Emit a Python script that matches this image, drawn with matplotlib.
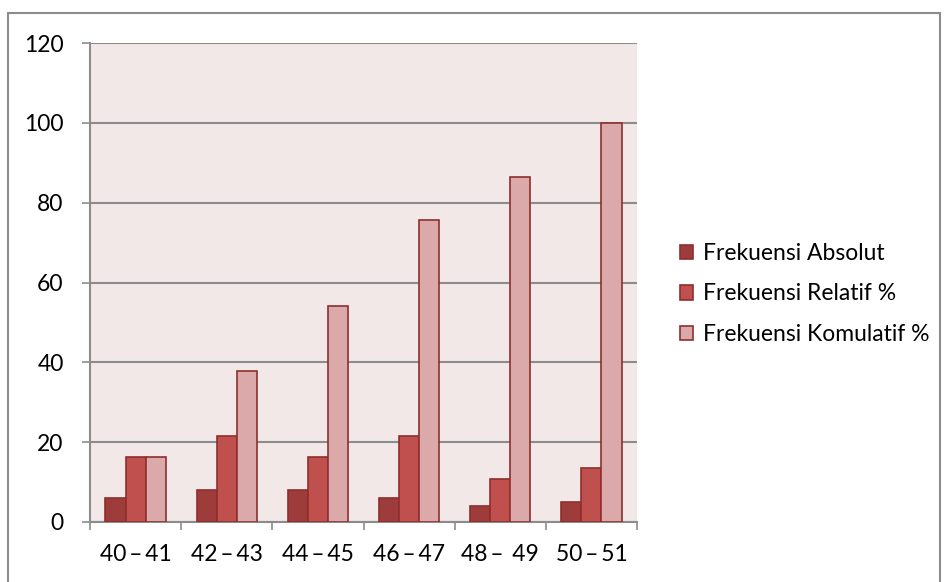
import matplotlib.pyplot as plt
import matplotlib.patches as mpatches
import numpy as np

plt.rcParams['font.family'] = ['Lato', 'DejaVu Sans']

kelas = ["40\u2009–\u200941", "42\u2009–\u200943", "44\u2009–\u200945",
         "46\u2009–\u200947", "48\u2009– \u200949", "50\u2009–\u200951"]
absolut = [6, 8, 8, 6, 4, 5]
relatif = [16.2, 21.6, 16.2, 21.6, 10.8, 13.5]
komulatif = [16.2, 37.8, 54.1, 75.7, 86.5, 100]

series = [
    ("Frekuensi Absolut", absolut, "#9e3c3b"),
    ("Frekuensi Relatif %", relatif, "#c0504d"),
    ("Frekuensi Komulatif %", komulatif, "#dba9aa"),
]

fig = plt.figure(figsize=(9.53, 5.82), dpi=100)
# outer chart border
fig.patches.append(mpatches.Rectangle((8 / 953, -0.05), 932 / 953, 1.05 - 13 / 582,
                                      transform=fig.transFigure, fill=False,
                                      edgecolor="#8c8c8c", linewidth=1.5))

ax = fig.add_axes([90 / 953, 1 - 522 / 582, 547 / 953, 479 / 582])
ax.set_facecolor("#f2e8e8")

x = np.arange(len(kelas)) + 0.5
w = 0.22
for i, (name, vals, col) in enumerate(series):
    ax.bar(x + (i - 1) * w, vals, width=w, color=col, edgecolor="#8e2f2e",
           linewidth=1.2, label=name, zorder=3)

ax.set_xlim(0, len(kelas))
ax.set_ylim(0, 120)
ax.set_yticks(range(0, 121, 20))
ax.yaxis.grid(True, color="#8c8c8c", linewidth=1.5, zorder=1)
ax.set_axisbelow(True)

fs = 16.5
ax.set_xticks(range(len(kelas) + 1))
ax.set_xticklabels([])
ax.set_xticks(x, minor=True)
ax.set_xticklabels(kelas, minor=True)
ax.tick_params(axis="x", which="major", length=6, color="#8c8c8c", width=1.2)
ax.tick_params(axis="x", which="minor", length=0, pad=16, labelsize=fs)
ax.tick_params(axis="y", length=6, color="#8c8c8c", width=1.2, pad=13, labelsize=fs)

for s in ["top", "right"]:
    ax.spines[s].set_visible(False)
for s in ["left", "bottom"]:
    ax.spines[s].set_color("#8c8c8c")
    ax.spines[s].set_linewidth(1.5)

fig.legend(loc="center left", bbox_to_anchor=(659 / 953, 1 - 294 / 582),
           frameon=False, fontsize=fs, handlelength=0.6, handleheight=0.6,
           handletextpad=0.4, labelspacing=0.85)

fig.savefig("out.png", dpi=100)
